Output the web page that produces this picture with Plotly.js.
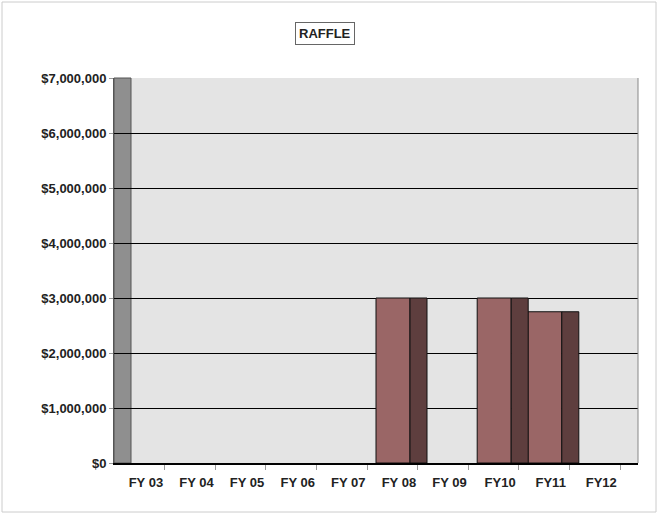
<!DOCTYPE html>
<html><head><script src="https://cdn.plot.ly/plotly-3.0.1.min.js"></script>
<style>body{margin:0}</style></head><body><div id="c" style="width:658px;height:514px"></div>
<script>
const categories=["FY 03","FY 04","FY 05","FY 06","FY 07","FY 08","FY 09","FY10","FY11","FY12"];
const values=[0,0,0,0,0,3000000,0,3000000,2750000,0];
const idx=categories.map((c,i)=>i);
const shown=values.map(v=>v===0?null:v);
const U=50.6;
const front={type:'bar',x:idx,y:shown,offset:-0.5+9/U,width:34/U,marker:{color:'#9a6666',line:{color:'#111',width:1}},hoverinfo:'skip'};
const side={type:'bar',x:idx,y:shown,offset:-0.5+43/U,width:17/U,marker:{color:'#5e3e3e',line:{color:'#111',width:1}},hoverinfo:'skip'};
const tf={family:'Liberation Sans, Arial',size:13,weight:'bold',color:'#222'};
const layout={width:658,height:514,margin:{l:114,r:20,t:78,b:51},barmode:'overlay',showlegend:false,
paper_bgcolor:'#fff',plot_bgcolor:'#e4e4e4',font:{family:'Liberation Sans, Arial',size:12,color:'#222'},
xaxis:{range:[-0.5,9.5+18/U],tickvals:idx.map(i=>i+0.13),ticktext:categories,ticks:'',showgrid:false,zeroline:false,
 showline:true,linecolor:'#000',linewidth:2,tickfont:tf,ticklabelstandoff:6,
 minor:{tickvals:idx.map(i=>i+0.5),ticks:'outside',ticklen:5,tickcolor:'#999',showgrid:false}},
yaxis:{range:[0,7000000],dtick:1000000,tickformat:'$,.0f',showgrid:true,gridcolor:'#000',gridwidth:1,zeroline:false,
 showline:true,linecolor:'#555',linewidth:1,ticks:'outside',ticklen:4,tickcolor:'#999',tickfont:tf,ticklabelstandoff:0},
shapes:[
 {type:'rect',xref:'x',yref:'paper',x0:-0.5,x1:-0.5+17/U,y0:0,y1:1,fillcolor:'#8f8f8f',line:{color:'#555',width:1},layer:'below'},
 {type:'line',xref:'paper',yref:'paper',x0:1,x1:1,y0:0,y1:1,line:{color:'#888',width:1}},
 {type:'rect',xref:'paper',yref:'paper',x0:-112/524,x1:1+18/524,y0:-49/385,y1:1+76/385,line:{color:'#ccc',width:1}}
],
annotations:[{xref:'paper',yref:'paper',x:(325-114)/524,y:1+45/385,yanchor:'middle',text:'<b>RAFFLE</b>',showarrow:false,font:{size:13,color:'#222'},bordercolor:'#666',borderwidth:1,borderpad:3,bgcolor:'#fff'}]};
Plotly.newPlot('c',[front,side],layout,{staticPlot:true});
</script></body></html>
